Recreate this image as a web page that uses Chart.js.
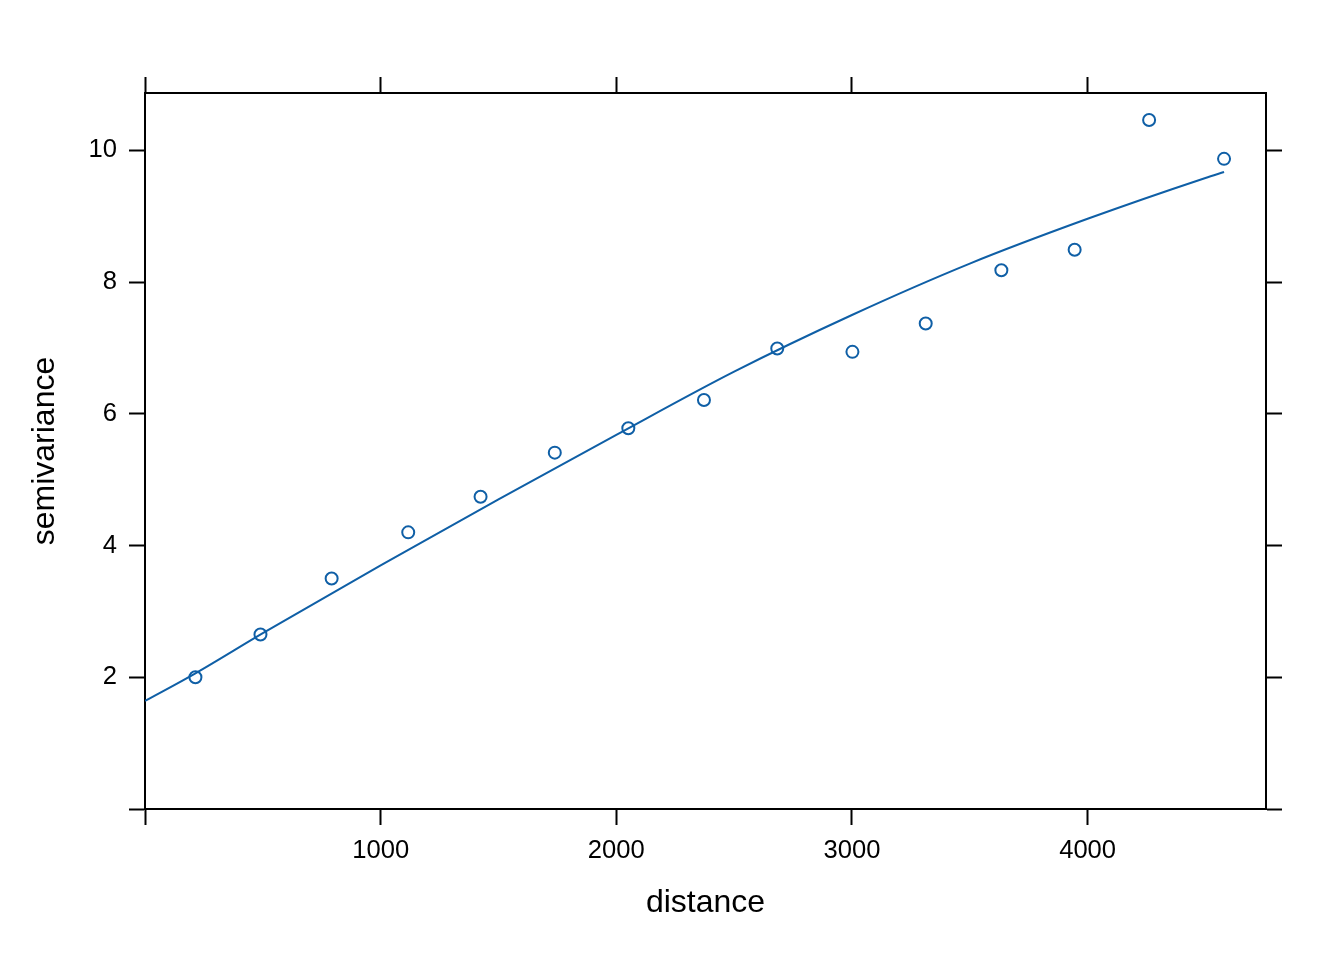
<!DOCTYPE html>
<html>
<head>
<meta charset="utf-8">
<script src="https://cdn.jsdelivr.net/npm/chart.js@4"></script>
<style>
  body { margin: 0; background: #fff; }
  #wrap { width: 1344px; height: 960px; }
</style>
</head>
<body>
<div id="wrap"><canvas id="vgm" width="1344" height="960"></canvas></div>
<script>
// sample variogram (points) and fitted model (line)
var dist = [214, 490, 792, 1117, 1424, 1739, 2051, 2372, 2683, 3002, 3313, 3634, 3945, 4261, 4579];
var gamma = [2.00, 2.65, 3.50, 4.20, 4.74, 5.41, 5.78, 6.21, 6.99, 6.94, 7.37, 8.18, 8.49, 10.46, 9.87];

var modelDist = [0, 214, 500, 1000, 1500, 2000, 2500, 3000, 3500, 4000, 4500, 4579];
var modelGamma = [1.64, 2.06, 2.67, 3.70, 4.70, 5.68, 6.64, 7.50, 8.28, 8.96, 9.58, 9.67];

var xTicks = [0, 1000, 2000, 3000, 4000];
var yTicks = [0, 2, 4, 6, 8, 10];

var blue = '#0f5fa6';
var fontFam = "'Liberation Sans', Arial, Helvetica, sans-serif";

var pts = dist.map(function (d, i) { return { x: d, y: gamma[i] }; });
var fit = modelDist.map(function (d, i) { return { x: d, y: modelGamma[i] }; });

function axisStyle(extra) {
  var base = {
    type: 'linear',
    grid: { display: true, drawOnChartArea: false, drawTicks: true, tickLength: 16, tickWidth: 2, tickColor: '#000' },
    border: { display: true, color: '#000', width: 2 }
  };
  return Object.assign(base, extra);
}

var xRange = { min: 0, max: 4757 };
var yRange = { min: 0, max: 10.87 };

var ctx = document.getElementById('vgm').getContext('2d');
var chart = new Chart(ctx, {
  type: 'scatter',
  data: {
    datasets: [{
      data: pts,
      showLine: false,
      pointStyle: 'circle',
      pointRadius: 6,
      pointBorderWidth: 2,
      pointBorderColor: blue,
      pointBackgroundColor: 'rgba(0,0,0,0)',
      xAxisID: 'x', yAxisID: 'y'
    }, {
      data: fit,
      showLine: true,
      pointRadius: 0,
      borderColor: blue,
      borderWidth: 2,
      cubicInterpolationMode: 'monotone',
      xAxisID: 'x', yAxisID: 'y'
    }]
  },
  options: {
    responsive: false,
    animation: false,
    layout: { padding: { left: 26, top: 0, right: 0, bottom: 38 } },
    plugins: { legend: { display: false }, tooltip: { enabled: false } },
    scales: {
      x: axisStyle({
        position: 'bottom', min: xRange.min, max: xRange.max,
        afterBuildTicks: function (s) { s.ticks = xTicks.map(function (v) { return { value: v }; }); },
        afterFit: function (s) { s.height = 113; },
        ticks: {
          padding: 11, color: '#000', font: { family: fontFam, size: 25.6 },
          callback: function (v) { return v === 0 ? '' : String(v); }
        },
        title: { display: true, text: 'distance', color: '#000', padding: { top: 0, bottom: 0 }, font: { family: fontFam, size: 32 } }
      }),
      x2: axisStyle({
        position: 'top', min: xRange.min, max: xRange.max,
        afterBuildTicks: function (s) { s.ticks = xTicks.map(function (v) { return { value: v }; }); },
        afterFit: function (s) { s.height = 93; },
        ticks: { display: false }
      }),
      y: axisStyle({
        position: 'left', min: yRange.min, max: yRange.max,
        afterBuildTicks: function (s) { s.ticks = yTicks.map(function (v) { return { value: v }; }); },
        afterFit: function (s) { s.width = 119; },
        ticks: {
          padding: 12, color: '#000', font: { family: fontFam, size: 25.6 },
          callback: function (v) { return v === 0 ? '' : String(v); }
        },
        title: { display: true, text: 'semivariance', color: '#000', padding: { top: 0, bottom: 0 }, font: { family: fontFam, size: 32 } }
      }),
      y2: axisStyle({
        position: 'right', min: yRange.min, max: yRange.max,
        afterBuildTicks: function (s) { s.ticks = yTicks.map(function (v) { return { value: v }; }); },
        afterFit: function (s) { s.width = 78; },
        ticks: { display: false }
      })
    }
  }
});
</script>
</body>
</html>
